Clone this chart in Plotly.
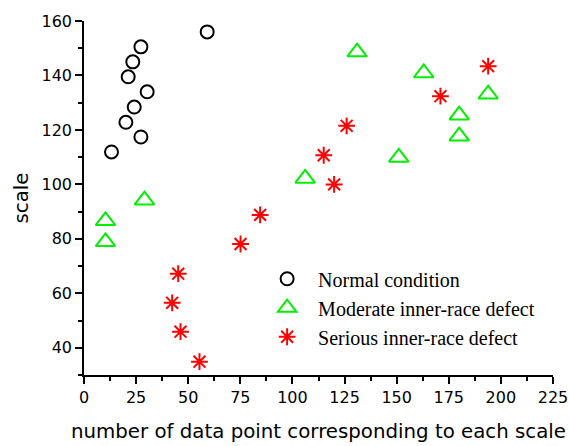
import plotly.graph_objects as go

normal_x = [13.2, 20.1, 24.1, 27.3, 30.3, 21.2, 23.4, 27.3, 59.1]
normal_y = [111.9, 122.8, 128.4, 117.4, 134.0, 139.5, 145.0, 150.5, 156.0]

moderate_x = [131, 163, 193.9, 180, 180, 151, 106.1, 29, 10.3, 10.3]
moderate_y = [148.6, 140.9, 133.1, 125.4, 117.7, 109.9, 102.2, 94.2, 86.6, 78.9]

serious_x = [193.9, 171, 126, 115, 120, 84.5, 75.1, 45.2, 42.3, 46.3, 55.4]
serious_y = [143.4, 132.4, 121.5, 110.7, 100.0, 88.8, 78.1, 67.2, 56.5, 45.9, 34.9]

names = ["Normal condition", "Moderate inner-race defect", "Serious inner-race defect"]

fig = go.Figure()
fig.add_trace(go.Scatter(x=normal_x, y=normal_y, mode="markers", name=names[0],
                         marker=dict(symbol="circle-open", size=13, color="black",
                                     line=dict(width=2, color="black"))))
fig.add_trace(go.Scatter(x=moderate_x, y=moderate_y, mode="markers", name=names[1],
                         marker=dict(symbol="triangle-up-open", size=17, color="#00ee00",
                                     line=dict(width=2, color="#00ee00"))))
fig.add_trace(go.Scatter(x=serious_x, y=serious_y, mode="markers", name=names[2],
                         marker=dict(symbol="asterisk-open", size=14, color="#ff0000",
                                     line=dict(width=2, color="#ff0000"))))

sans = "DejaVu Sans, sans-serif"
axis_font = dict(family=sans, size=16, color="black")
title_font = dict(family=sans, size=19.8, color="black")
fig.update_layout(
    width=569, height=446,
    margin=dict(l=83.5, r=16.3, t=20.7, b=71, autoexpand=False),
    plot_bgcolor="white", paper_bgcolor="white",
    showlegend=True,
    legend=dict(x=0.367, y=0.19, xanchor="left", yanchor="middle",
                bgcolor="rgba(0,0,0,0)", itemwidth=52,
                font=dict(family="Times New Roman, Liberation Serif, serif", size=20, color="black")),
    xaxis=dict(range=[0, 225], dtick=25, tick0=0, showgrid=False, zeroline=False,
               automargin=False,
               showline=True, linecolor="black", linewidth=1.5,
               ticks="outside", ticklen=7, tickwidth=1.5, tickcolor="black",
               minor=dict(dtick=12.5, ticks="outside", ticklen=4, tickwidth=1.5, tickcolor="black", showgrid=False),
               tickfont=axis_font,
               title=dict(text="number of data point corresponding to each scale",
                          font=title_font, standoff=18)),
    yaxis=dict(range=[30, 160], dtick=20, tick0=0, showgrid=False, zeroline=False,
               automargin=False,
               showline=True, linecolor="black", linewidth=1.5,
               ticks="outside", ticklen=7, tickwidth=1.5, tickcolor="black",
               minor=dict(dtick=10, ticks="outside", ticklen=4, tickwidth=1.5, tickcolor="black", showgrid=False),
               tickfont=axis_font,
               title=dict(text="scale", font=title_font, standoff=8)),
)

fig.write_html("out.html", config={"displayModeBar": False},
               post_script="document.body.style.margin='0';document.body.style.overflow='hidden';")
